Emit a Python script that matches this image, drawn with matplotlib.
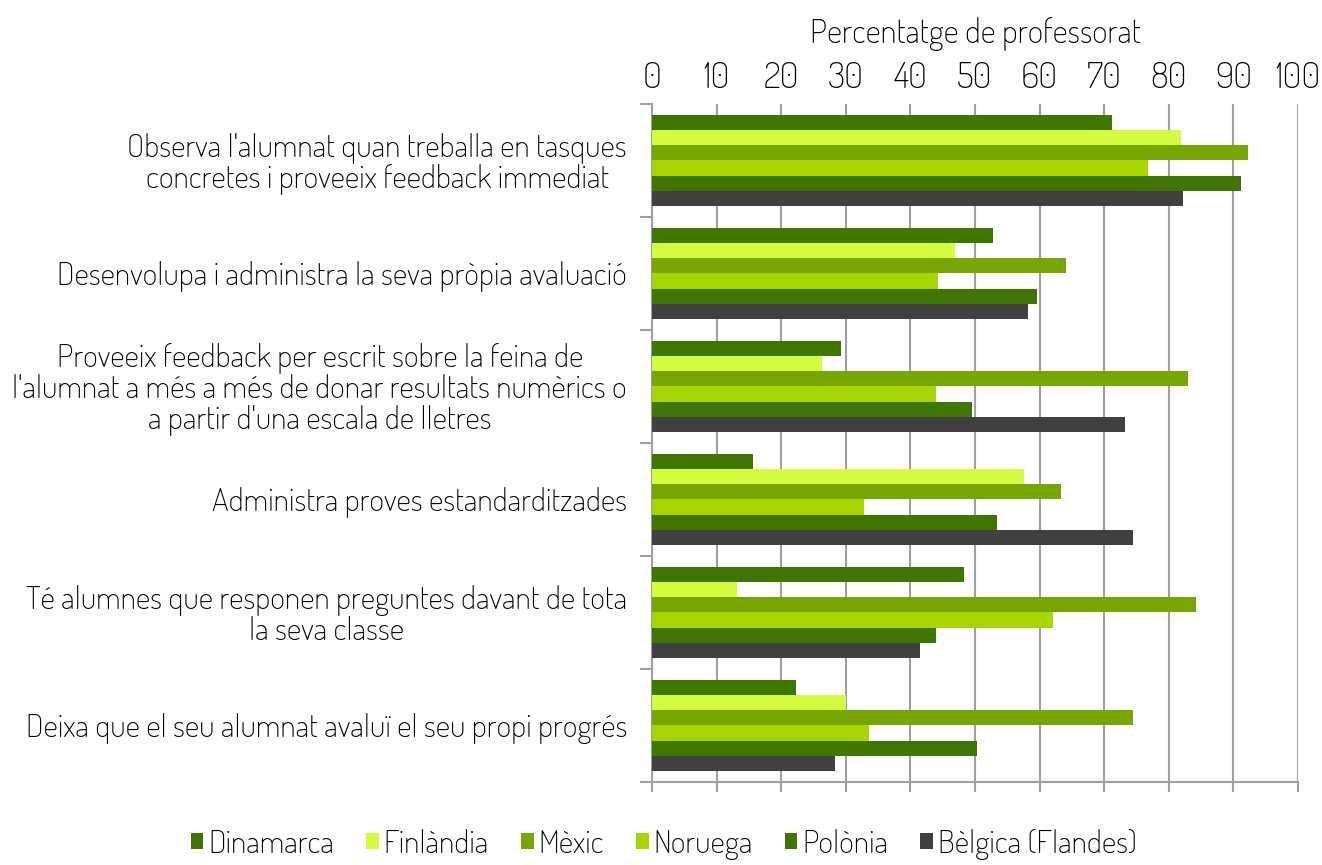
import numpy as np
import matplotlib
matplotlib.use("Agg")
import matplotlib.pyplot as plt
from matplotlib.ticker import FixedLocator

plt.rcParams['font.family'] = ['Dosis', 'Abel', 'DejaVu Sans']
plt.rcParams['font.weight'] = 'light'

CATEGORIES = [
    "Observa l'alumnat quan treballa en tasques\nconcretes i proveeix feedback immediat",
    "Desenvolupa i administra la seva pròpia avaluació",
    "Proveeix feedback per escrit sobre la feina de\nl'alumnat a més a més de donar resultats numèrics o\na partir d'una escala de lletres",
    "Administra proves estandarditzades",
    "Té alumnes que responen preguntes davant de tota\nla seva classe",
    "Deixa que el seu alumnat avaluï el seu propi progrés",
]

SERIES = ["Dinamarca", "Finlàndia", "Mèxic", "Noruega", "Polònia", "Bèlgica (Flandes)"]
COLORS = ["#3f7600", "#d4fb3e", "#78a600", "#a8d400", "#3f7600", "#404040"]

# one list per country, in category order
dinamarca = [71.2, 52.8, 29.3, 15.6, 48.3, 22.3]
finlandia = [81.9, 46.9, 26.3, 57.6, 13.2, 30.0]
mexic = [92.3, 64.1, 83.0, 63.3, 84.2, 74.5]
noruega = [76.8, 44.3, 44.0, 32.8, 62.1, 33.6]
polonia = [91.2, 59.6, 49.5, 53.4, 44.0, 50.3]
belgica = [82.2, 58.2, 73.2, 74.5, 41.5, 28.3]

VALUES = [dinamarca, finlandia, mexic, noruega, polonia, belgica]

fig = plt.figure(figsize=(13.22, 8.65), dpi=100)
ax = fig.add_axes([0.4932, 0.0960, 0.4886, 0.7838])

n = len(SERIES)
bar_h = 0.8 / n
y = np.arange(len(CATEGORIES))
for i, (name, vals, col) in enumerate(zip(SERIES, VALUES, COLORS)):
    offs = -0.4 + bar_h * (i + 0.5)
    ax.barh(y + offs, vals, height=bar_h, color=col, label=name, zorder=3)

ax.set_xlim(0, 100)
ax.set_ylim(len(CATEGORIES) - 0.5, -0.5)
ax.set_xticks(np.arange(0, 101, 10))
ax.xaxis.set_ticks_position('bottom')
ax.tick_params(axis='x', which='both', labelbottom=False, labeltop=True,
               top=False, bottom=True, length=7, width=1.5, color='#a0a0a0',
               labelsize=26, pad=-1)
ax.xaxis.set_label_position('top')
ax.set_xlabel("Percentatge de professorat", fontsize=24, labelpad=12.5)

ax.set_yticks(y)
ax.set_yticklabels(CATEGORIES, fontsize=23, linespacing=1.0,
                   multialignment='center')
ax.yaxis.set_minor_locator(FixedLocator(np.arange(-0.5, len(CATEGORIES), 1.0)))
ax.tick_params(axis='y', which='major', length=0, pad=18)
ax.tick_params(axis='y', which='minor', length=9, width=1.5, color='#a0a0a0')

ax.grid(axis='x', color='#a0a0a0', linewidth=1.5, zorder=0)
for s in ['top', 'right']:
    ax.spines[s].set_visible(False)
for s in ['left', 'bottom']:
    ax.spines[s].set_color('#a0a0a0')
    ax.spines[s].set_linewidth(1.5)

leg = fig.legend(loc='lower center', bbox_to_anchor=(0.502, -0.027), ncol=6,
                 frameon=False, fontsize=23, handlelength=0.4, handleheight=0.4,
                 handletextpad=0.15, columnspacing=1.0)

fig.savefig("out.png", dpi=100)
